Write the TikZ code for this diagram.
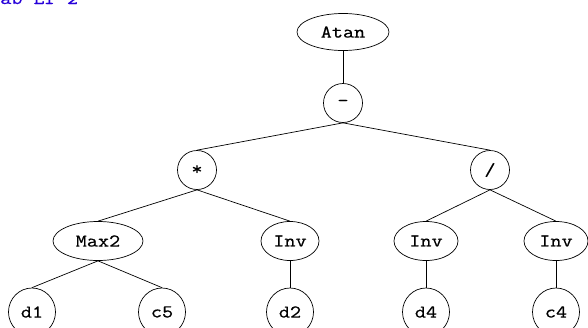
\documentclass[tikz,border=0pt]{standalone}
\usepackage{fontspec}
\setmonofont{Latin Modern Mono}[FakeStretch=1.2, FakeBold=0.6]
\usetikzlibrary{shapes.geometric}

\begin{document}
\begin{tikzpicture}[
  x=1pt, y=-1pt,
  op/.style={ellipse, draw=black, line width=0.7pt, inner sep=0pt,
             minimum height=39pt, minimum width=39pt, font=\ttfamily\fontsize{18}{18}\selectfont},
  fn/.style={op, minimum width=90pt},
  leaf/.style={op, minimum width=47pt, minimum height=48pt},
  edge/.style={line width=0.7pt}
]
\useasboundingbox (0,0) rectangle (588,327);

\node[anchor=base west, text=blue!85!red, inner sep=0pt,
      font=\ttfamily\fontsize{18}{18}\selectfont] (title) at (0,4) {ab Lf 2};

\node[fn, minimum width=92pt, minimum height=37pt] (atan) at (343,32) {Atan};
\node[op] (minus) at (343,103) {-};
\node[op] (mul) at (197,170) {*};
\node[op] (div) at (490,170) {/};

\node[fn] (max2) at (98,241) {Max2};
\node[op, minimum width=58pt] (inv1) at (290,241) {Inv};
\node[op, minimum width=64pt] (inv2) at (426,241) {Inv};
\node[op, minimum width=64pt] (inv3) at (556,241) {Inv};

\node[leaf] (d1) at (32,312) {d1};
\node[leaf] (c5) at (162,312) {c5};
\node[leaf] (d2) at (290,312) {d2};
\node[leaf] (d4) at (426,312) {d4};
\node[leaf] (c4) at (556,312) {c4};

\draw[edge] (atan.south) -- (minus.north);
\draw[edge] (minus.south) -- (mul.north);
\draw[edge] (minus.south) -- (div.north);
\draw[edge] (mul.south) -- (max2.north);
\draw[edge] (mul.south) -- (inv1.north);
\draw[edge] (div.south) -- (inv2.north);
\draw[edge] (div.south) -- (inv3.north);
\draw[edge] (max2.south) -- (d1.north);
\draw[edge] (max2.south) -- (c5.north);
\draw[edge] (inv1.south) -- (d2.north);
\draw[edge] (inv2.south) -- (d4.north);
\draw[edge] (inv3.south) -- (c4.north);

\end{tikzpicture}
\end{document}
